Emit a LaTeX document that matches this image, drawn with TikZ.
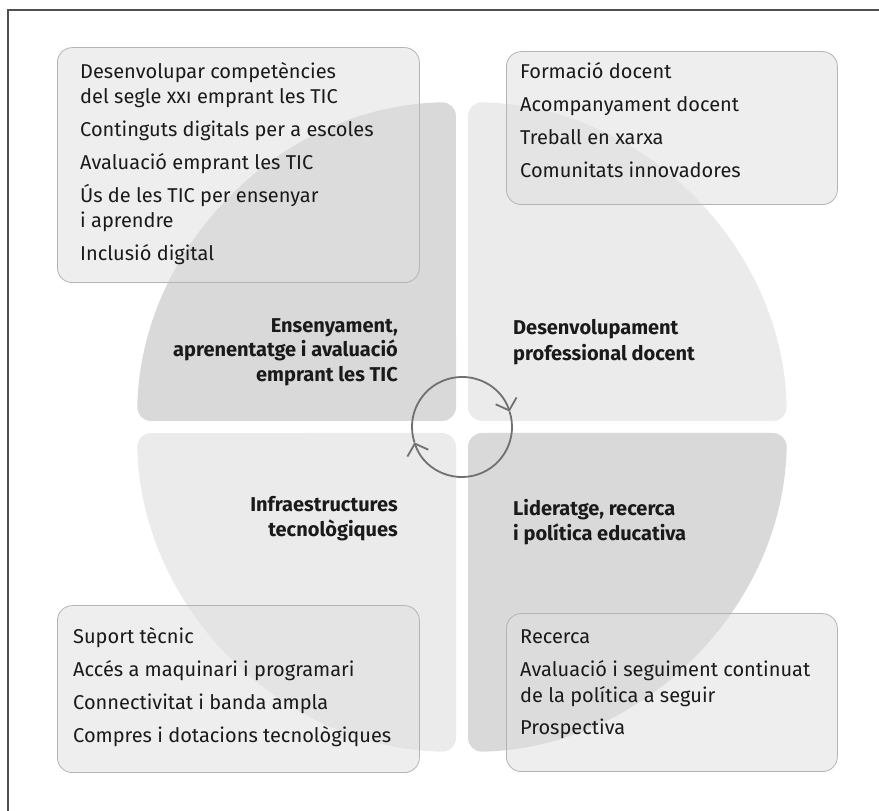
\documentclass[tikz,border=0pt]{standalone}
\usepackage{fontspec}
\setmainfont{Fira Sans}
\usetikzlibrary{arrows.meta}
\definecolor{quadDark}{HTML}{D9D9D9}
\definecolor{quadLight}{HTML}{EBEBEB}
\definecolor{boxLine}{HTML}{B4B4B4}
\definecolor{boxFill}{HTML}{E0E0E0}
\definecolor{ink}{HTML}{1A1A1A}
\definecolor{frameLine}{HTML}{505050}
\definecolor{cycleLine}{HTML}{707070}
\begin{document}
\begin{tikzpicture}[x=1pt,y=1pt,
  infobox/.style={draw=boxLine, line width=0.8pt, fill=boxFill, fill opacity=0.55,
    rounded corners=15pt, inner sep=0pt, anchor=south west},
  item/.style={anchor=base west, inner sep=0pt, text=ink, font=\fontsize{20}{25}\selectfont},
  headL/.style={anchor=base west, inner sep=0pt, text=ink, font=\fontsize{20}{25}\selectfont\bfseries},
  headR/.style={headL, anchor=base east},
  sector/.style={rounded corners=14pt},
  cyc/.style={cycleLine, line width=1.8pt, -{Straight Barb[length=10pt, width=22pt]}}]
\useasboundingbox (0,0) rectangle (879,811);

% frame: left and top rules
\draw[frameLine, line width=2pt] (8,0) -- (8,801) -- (879,801);

% the four quarter discs
\coordinate (c) at (462,384);
\foreach \ang/\col in {0/quadLight, 90/quadDark, 180/quadLight, 270/quadDark}
  \fill[\col, sector, shift={(462,384)}, rotate=\ang]
    (6,6) -- (6,324.94) arc[start angle=88.94, end angle=1.06, radius=325] -- cycle;

% quadrant headings
\node[headR] (hTL1) at (398,478) {Ensenyament,};
\node[headR] (hTL2) at (398,454) {aprenentatge i avaluació};
\node[headR] (hTL3) at (398,429) {emprant les TIC};
\node[headL] (hTR1) at (513,476) {Desenvolupament};
\node[headL] (hTR2) at (513,450) {professional docent};
\node[headR] (hBL1) at (398,299) {Infraestructures};
\node[headR] (hBL2) at (398,274) {tecnològiques};
\node[headL] (hBR1) at (513,295) {Lideratge, recerca};
\node[headL] (hBR2) at (513,270) {i política educativa};

% cycle in the centre
\draw[cyc] (c) ++(198:50) arc[start angle=198, end angle=18, radius=50];
\draw[cyc] (c) ++(18:50) arc[start angle=18, end angle=-162, radius=50];

% item boxes
\node[infobox, minimum width=362pt, minimum height=235pt] (boxTL) at (57,528) {};
\node[infobox, minimum width=331pt, minimum height=153pt] (boxTR) at (506,606) {};
\node[infobox, minimum width=362pt, minimum height=167pt] (boxBL) at (57,38) {};
\node[infobox, minimum width=331pt, minimum height=158pt] (boxBR) at (506,39) {};

% item texts
\foreach \y/\t [count=\i] in {732/{Desenvolupar competències},
    707/{del segle \textsc{xxi} emprant les TIC}, 674/{Continguts digitals per a escoles},
    641/{Avaluació emprant les TIC}, 608/{Ús de les TIC per ensenyar},
    583/{i aprendre}, 550/{Inclusió digital}}
  \node[item] (tl\i) at (80,\y) {\t};
\foreach \y/\t [count=\i] in {732/{Formació docent}, 699/{Acompanyament docent},
    666/{Treball en xarxa}, 633/{Comunitats innovadores}}
  \node[item] (tr\i) at (520,\y) {\t};
\foreach \y/\t [count=\i] in {167/{Suport tècnic}, 134/{Accés a maquinari i programari},
    101/{Connectivitat i banda ampla}, 68/{Compres i dotacions tecnològiques}}
  \node[item] (bl\i) at (73,\y) {\t};
\foreach \y/\t [count=\i] in {167/{Recerca}, 134/{Avaluació i seguiment continuat},
    108/{de la política a seguir}, 76/{Prospectiva}}
  \node[item] (br\i) at (520,\y) {\t};
\end{tikzpicture}
\end{document}
